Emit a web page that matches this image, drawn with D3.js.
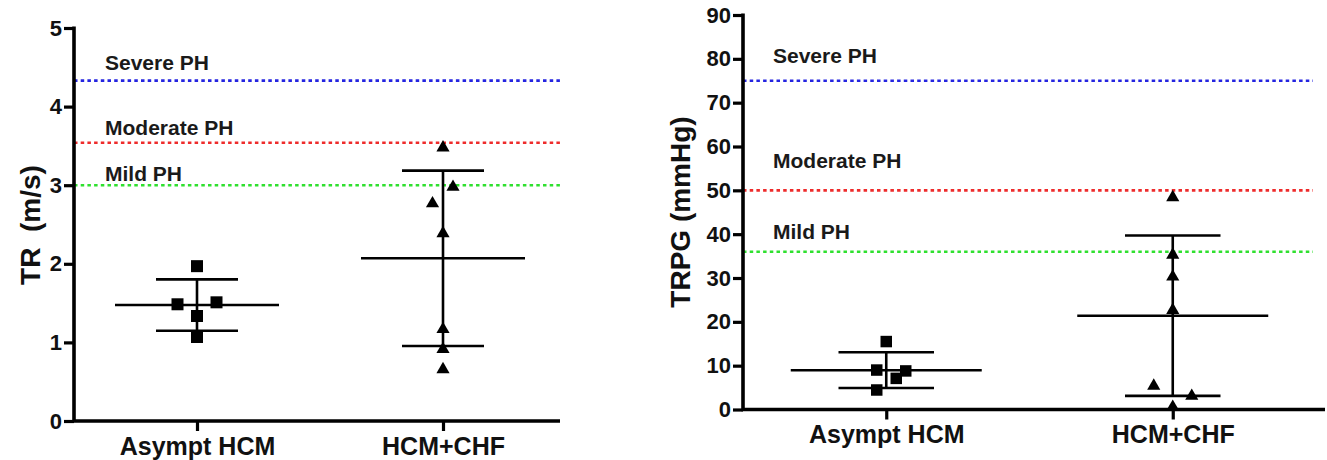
<!DOCTYPE html>
<html>
<head>
<meta charset="utf-8">
<script src="https://cdn.jsdelivr.net/npm/d3@7"></script>
<style>
  body { margin: 0; background: #fff; }
  svg { display: block; font-family: "Liberation Sans", Arial, sans-serif; font-weight: bold; }
</style>
</head>
<body>
<div id="chart"></div>
<script>
// Data
const groups = ["Asympt HCM", "HCM+CHF"];
const phLabels = ["Severe PH", "Moderate PH", "Mild PH"];

// TR (m/s)
const trAsympt = [1.97, 1.485, 1.51, 1.336, 1.069];
const trChf = [3.49, 2.99, 2.78, 2.40, 1.18, 0.925, 0.67];
const trMean = [1.475, 2.07];
const trSd = [0.327, 1.116];
const trCutoffs = [4.33, 3.54, 3.0];
const trTicks = [0, 1, 2, 3, 4, 5];

// TRPG (mmHg)
const trpgAsympt = [15.5, 9.0, 8.8, 7.1, 4.45];
const trpgChf = [48.6, 35.5, 30.5, 22.9, 5.6, 3.3, 0.8];
const trpgMean = [8.97, 21.4];
const trpgSd = [4.08, 18.3];
const trpgCutoffs = [75, 50, 36];
const trpgTicks = [0, 10, 20, 30, 40, 50, 60, 70, 80, 90];

const width = 1327, height = 460;
const cutoffColors = ["#2424e0", "#ee2b2b", "#2fe02f"];

const svg = d3.select("#chart")
  .append("svg")
    .attr("width", width)
    .attr("height", height);

const drawPanel = (cfg) => {
  const g = svg.append("g");

  const x = d3.scalePoint()
    .domain(groups)
    .range(cfg.xRange)
    .padding(0.5);
  const y = d3.scaleLinear()
    .domain(cfg.domain)
    .range(cfg.yRange);
  const step = x.step();

  // cutoff lines (dotted)
  g.selectAll(".cutoff")
    .data(cfg.cutoffs)
    .join("line")
      .attr("x1", cfg.xRange[0])
      .attr("x2", cfg.lineEnd)
      .attr("y1", d => y(d))
      .attr("y2", d => y(d))
      .attr("stroke", (d, i) => cutoffColors[i])
      .attr("stroke-width", 2.6)
      .attr("stroke-dasharray", "3.5,3.2");

  // cutoff labels
  g.selectAll(".cutoff-label")
    .data(phLabels)
    .join("text")
      .attr("x", cfg.labelX)
      .attr("y", (d, i) => y(cfg.labelAt[i]))
      .text(d => d)
      .style("font-size", "21px")
      .attr("fill", "#1a1a1a");

  // mean +- SD bars
  groups.forEach((grp, i) => {
    const cx = x(grp);
    const m = cfg.mean[i], s = cfg.sd[i];
    const bars = g.append("g")
      .attr("stroke", "#000")
      .attr("stroke-width", 2.6);
    bars.append("line")
      .attr("x1", cx).attr("x2", cx)
      .attr("y1", y(m + s)).attr("y2", y(m - s));
    bars.append("line")
      .attr("x1", cx - step / 3).attr("x2", cx + step / 3)
      .attr("y1", y(m)).attr("y2", y(m));
    [m + s, m - s].forEach(v => {
      bars.append("line")
        .attr("x1", cx - step / 6).attr("x2", cx + step / 6)
        .attr("y1", y(v)).attr("y2", y(v));
    });
  });

  // points
  const sq = d3.symbol().type(d3.symbolSquare).size(cfg.sqSize);
  const tri = d3.symbol().type(d3.symbolTriangle).size(cfg.triSize);
  g.selectAll(".sq")
    .data(cfg.asympt)
    .join("path")
      .attr("d", sq)
      .attr("transform", (d, i) => `translate(${x(groups[0]) + cfg.jitterA[i]}, ${y(d)})`)
      .attr("fill", "#000");
  g.selectAll(".tri")
    .data(cfg.chf)
    .join("path")
      .attr("d", tri)
      .attr("transform", (d, i) => `translate(${x(groups[1]) + cfg.jitterB[i]}, ${y(d) + 1})`)
      .attr("fill", "#000");

  // y axis
  const yAxis = g.append("g")
    .attr("transform", `translate(${cfg.xRange[0]}, 0)`)
    .call(d3.axisLeft(y).tickValues(cfg.ticks).tickFormat(d3.format("d"))
      .tickSize(10).tickPadding(2).tickSizeOuter(0));
  yAxis.select(".domain").remove();
  yAxis.selectAll("line").attr("stroke-width", 3.2);
  yAxis.selectAll("text")
    .style("font-size", "22px")
    .style("font-family", "Liberation Sans, Arial, sans-serif")
    .style("font-weight", "bold")
    .attr("fill", "#111");

  // x axis
  const xAxis = g.append("g")
    .attr("transform", `translate(0, ${cfg.yRange[0]})`)
    .call(d3.axisBottom(x).tickSize(10).tickPadding(6).tickSizeOuter(0));
  xAxis.select(".domain").remove();
  xAxis.selectAll("line").attr("stroke-width", 3.2);
  xAxis.selectAll("text")
    .style("font-size", "25px")
    .style("font-family", "Liberation Sans, Arial, sans-serif")
    .style("font-weight", "bold")
    .attr("fill", "#111");

  // axis lines
  g.append("path")
    .attr("d", `M${cfg.xRange[0]},${cfg.yRange[1] - 1.5}V${cfg.yRange[0]}H${cfg.axisEnd}`)
    .attr("fill", "none")
    .attr("stroke", "#000")
    .attr("stroke-width", 3.6);

  // y title
  g.append("text")
    .attr("transform", `translate(${cfg.titleX}, ${cfg.titleY}) rotate(-90)`)
    .attr("text-anchor", "middle")
    .style("font-size", "28px")
    .style("white-space", "pre")
    .attr("fill", "#111")
    .text(cfg.title);
};

drawPanel({
  xRange: [74, 566], yRange: [421, 28], domain: [0, 5], ticks: trTicks,
  axisEnd: 560, lineEnd: 561,
  cutoffs: trCutoffs, labelX: 105, labelAt: [4.46, 3.64, 3.05],
  asympt: trAsympt, chf: trChf, mean: trMean, sd: trSd,
  jitterA: [0, -19.5, 19.5, 0, 0], jitterB: [0, 10, -10.5, 0, 0, 0, 0],
  sqSize: 144, triSize: 75,
  title: "TR  (m/s)", titleX: 40, titleY: 225
});

drawPanel({
  xRange: [743, 1316], yRange: [409.5, 15], domain: [0, 90], ticks: trpgTicks,
  axisEnd: 1325, lineEnd: 1313,
  cutoffs: trpgCutoffs, labelX: 773, labelAt: [79, 55, 38.8],
  asympt: trpgAsympt, chf: trpgChf, mean: trpgMean, sd: trpgSd,
  jitterA: [0, -9.5, 19.5, 10, -9.5], jitterB: [0, 0, 0, 0, -19, 19, 0],
  sqSize: 132, triSize: 75,
  title: "TRPG (mmHg)", titleX: 690, titleY: 212
});
</script>
</body>
</html>
